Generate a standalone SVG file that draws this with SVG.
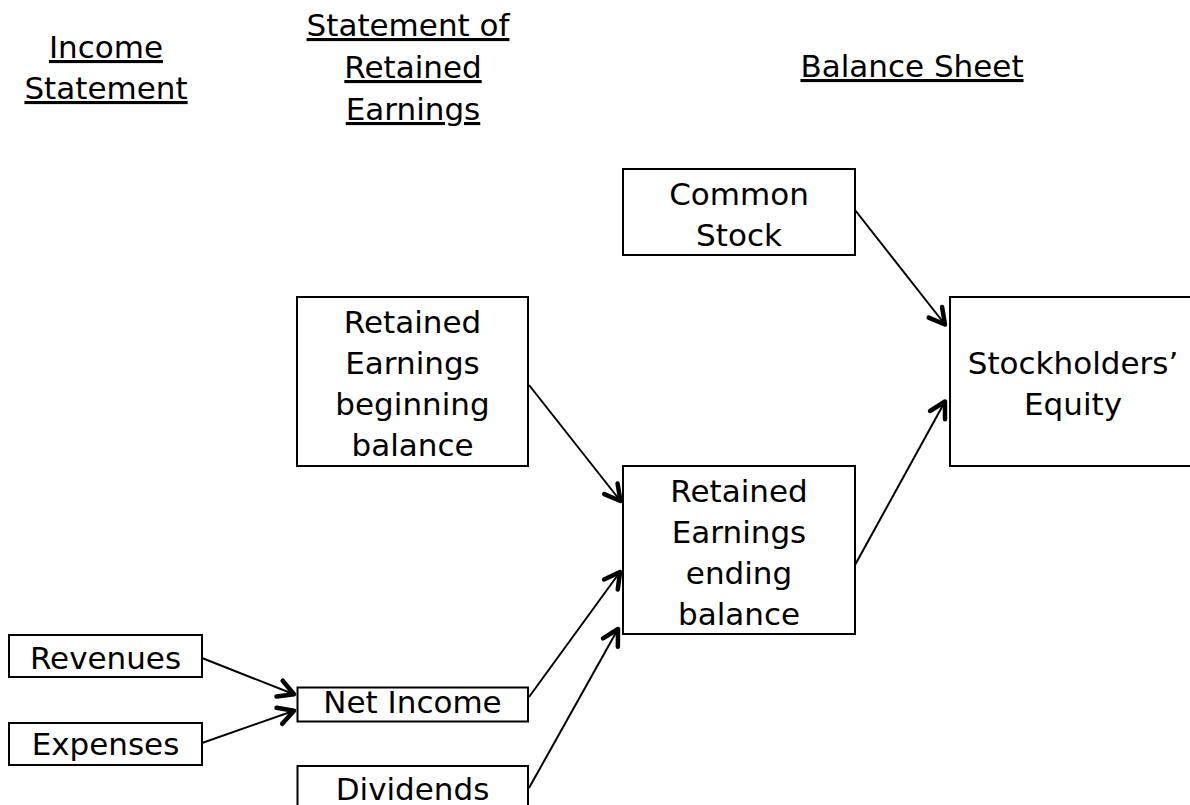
<svg xmlns="http://www.w3.org/2000/svg" width="1190" height="805" viewBox="0 0 1190 805">
  <style>
    .box { fill: #ffffff; stroke: #000000; stroke-width: 2; }
    .lbl { font-family: "DejaVu Sans", "Verdana", sans-serif; font-size: 31px; fill: #000000; text-anchor: middle; }
    .hdr { text-decoration: underline; }
    .conn { stroke: #000000; stroke-width: 2; fill: none; marker-end: url(#arrow); }
  </style>
  <defs>
    <marker id="arrow" markerUnits="userSpaceOnUse" viewBox="-22 -14 28 28" markerWidth="28" markerHeight="28" refX="0" refY="0" orient="auto" overflow="visible">
      <path d="M-15.5,-8.5 L0,0 L-15.5,8.5" fill="none" stroke="#000000" stroke-width="4.5" stroke-linecap="round" stroke-linejoin="round"/>
    </marker>
  </defs>
  <rect width="1190" height="805" fill="#ffffff"/>

  <g id="headers">
    <text class="lbl hdr" x="106" y="58">Income</text>
    <text class="lbl hdr" x="106" y="99">Statement</text>
    <text class="lbl hdr" x="408" y="36">Statement of</text>
    <text class="lbl hdr" x="413" y="78">Retained</text>
    <text class="lbl hdr" x="413" y="120">Earnings</text>
    <text class="lbl hdr" x="912" y="77">Balance Sheet</text>
  </g>

  <g id="connectors">
    <line class="conn" x1="855" y1="210" x2="945" y2="324.5"/>
    <line class="conn" x1="529" y1="385" x2="620.5" y2="501"/>
    <line class="conn" x1="529" y1="697" x2="620" y2="572"/>
    <line class="conn" x1="529" y1="788" x2="618" y2="629"/>
    <line class="conn" x1="202" y1="658" x2="294" y2="694.3"/>
    <line class="conn" x1="202" y1="743" x2="294" y2="710.7"/>
    <line class="conn" x1="855" y1="565" x2="945" y2="401.5"/>
  </g>

  <g id="node-common-stock">
    <rect class="box" x="623" y="169" width="232" height="86"/>
    <text class="lbl" x="739" y="205">Common</text>
    <text class="lbl" x="739" y="246">Stock</text>
  </g>

  <g id="node-stockholders-equity">
    <rect class="box" x="950" y="297" width="260" height="169"/>
    <text class="lbl" x="1073" y="374">Stockholders’</text>
    <text class="lbl" x="1073" y="415">Equity</text>
  </g>

  <g id="node-re-beginning">
    <rect class="box" x="297" y="297" width="231" height="169"/>
    <text class="lbl" x="412.5" y="333">Retained</text>
    <text class="lbl" x="412.5" y="374">Earnings</text>
    <text class="lbl" x="412.5" y="415">beginning</text>
    <text class="lbl" x="412.5" y="456">balance</text>
  </g>

  <g id="node-re-ending">
    <rect class="box" x="623" y="466" width="232" height="168"/>
    <text class="lbl" x="739" y="502">Retained</text>
    <text class="lbl" x="739" y="543">Earnings</text>
    <text class="lbl" x="739" y="584">ending</text>
    <text class="lbl" x="739" y="625">balance</text>
  </g>

  <g id="node-revenues">
    <rect class="box" x="9" y="635" width="193" height="42"/>
    <text class="lbl" x="105.5" y="669">Revenues</text>
  </g>

  <g id="node-expenses">
    <rect class="box" x="9" y="723" width="193" height="42"/>
    <text class="lbl" x="105.5" y="755">Expenses</text>
  </g>

  <g id="node-net-income">
    <rect class="box" x="297.5" y="687.5" width="230.5" height="34"/>
    <text class="lbl" x="412.5" y="713">Net Income</text>
  </g>

  <g id="node-dividends">
    <rect class="box" x="297.5" y="766" width="230.5" height="60"/>
    <text class="lbl" x="412.5" y="800">Dividends</text>
  </g>
</svg>
